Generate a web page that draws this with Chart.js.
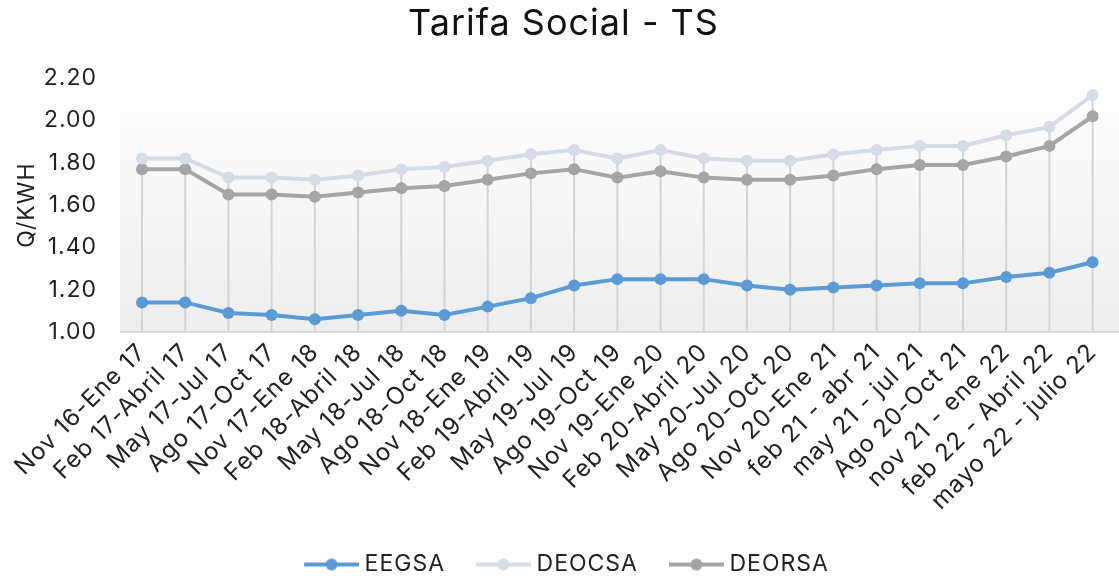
<!DOCTYPE html>
<html>
<head>
<meta charset="utf-8">
<script src="https://cdn.jsdelivr.net/npm/chart.js@4.4.1/dist/chart.umd.min.js"></script>
<style>
    body { margin: 0; background: #fff; }
    #wrap { width: 1119px; height: 576px; }
</style>
</head>
<body>
<div id="wrap"><canvas id="lineChart" width="1119" height="576"></canvas></div>
<script>
// datos
const periodos = ["Nov 16-Ene 17", "Feb 17-Abril 17", "May 17-Jul 17", "Ago 17-Oct 17", "Nov 17-Ene 18",
    "Feb 18-Abril 18", "May 18-Jul 18", "Ago 18-Oct 18", "Nov 18-Ene 19", "Feb 19-Abril 19",
    "May 19-Jul 19", "Ago 19-Oct 19", "Nov 19-Ene 20", "Feb 20-Abril 20", "May 20-Jul 20",
    "Ago 20-Oct 20", "Nov 20-Ene 21", "feb 21 - abr 21", "may 21 - jul 21", "Ago 20-Oct 21",
    "nov 21 - ene 22", "feb 22 - Abril 22", "mayo 22 - julio 22"];
const eegsa = [1.14, 1.14, 1.09, 1.08, 1.06, 1.08, 1.10, 1.08, 1.12, 1.16, 1.22, 1.25, 1.25, 1.25, 1.22,
    1.20, 1.21, 1.22, 1.23, 1.23, 1.26, 1.28, 1.33];
const deocsa = [1.82, 1.82, 1.73, 1.73, 1.72, 1.74, 1.77, 1.78, 1.81, 1.84, 1.86, 1.82, 1.86, 1.82, 1.81,
    1.81, 1.84, 1.86, 1.88, 1.88, 1.93, 1.97, 2.12];
const deorsa = [1.77, 1.77, 1.65, 1.65, 1.64, 1.66, 1.68, 1.69, 1.72, 1.75, 1.77, 1.73, 1.76, 1.73, 1.72,
    1.72, 1.74, 1.77, 1.79, 1.79, 1.83, 1.88, 2.02];
const series = ["EEGSA", "DEOCSA", "DEORSA"];
const colores = ["#5B9BD5", "#D6DCE5", "#A5A5A5"];
const yMin = 1.0, yMax = 2.2, yStep = 0.2;

const FONT = "Inter, 'DejaVu Sans', sans-serif";
const TEXT = "#222";

// icono de leyenda: línea con punto
const legendIcon = (color) => {
    const c = document.createElement("canvas");
    c.width = 67; c.height = 14;
    const g = c.getContext("2d");
    g.strokeStyle = color; g.lineWidth = 4;
    g.beginPath(); g.moveTo(12, 7); g.lineTo(67, 7); g.stroke();
    g.fillStyle = color;
    g.beginPath(); g.arc(39.5, 7, 6, 0, Math.PI * 2); g.fill();
    return c;
};

// texto un poco más espaciado (la fuente original es más ancha)
const spacing = {
    id: "spacing",
    beforeLayout(chart) { chart.ctx.letterSpacing = "1px"; },
    beforeDraw(chart) { chart.ctx.letterSpacing = "1px"; }
};

// fondo degradado, líneas de caída y eje inferior
const decor = {
    id: "decor",
    beforeDatasetsDraw(chart) {
        const {ctx, chartArea: a, scales: {x, y}} = chart;
        const left = a.left - 22;
        const top = a.top + 34;
        const grad = ctx.createLinearGradient(0, top, 0, a.bottom);
        grad.addColorStop(0, "#fcfcfc");
        grad.addColorStop(1, "#eeeeee");
        ctx.save();
        ctx.fillStyle = grad;
        ctx.fillRect(left, top, chart.width - left, a.bottom - top);
        ctx.strokeStyle = "#d4d4d4";
        ctx.lineWidth = 2;
        periodos.forEach((p, i) => {
            const hi = Math.max(eegsa[i], deocsa[i], deorsa[i]);
            const px = x.getPixelForValue(i);
            ctx.beginPath();
            ctx.moveTo(px, y.getPixelForValue(hi));
            ctx.lineTo(px, a.bottom);
            ctx.stroke();
        });
        ctx.strokeStyle = "#d9d9d9";
        ctx.beginPath();
        ctx.moveTo(left, a.bottom);
        ctx.lineTo(chart.width, a.bottom);
        ctx.stroke();
        ctx.restore();
    }
};

const ds = (label, data, color) => ({
    label: label,
    data: data,
    borderColor: color,
    backgroundColor: color,
    pointBackgroundColor: color,
    pointBorderColor: color,
    pointBorderWidth: 0,
    pointRadius: 6,
    borderWidth: 4,
    tension: 0
});

const ctx = document.getElementById("lineChart").getContext("2d");
new Chart(ctx, {
    type: "line",
    data: {
        labels: periodos,
        datasets: [
            ds(series[0], eegsa, colores[0]),
            ds(series[1], deocsa, colores[1]),
            ds(series[2], deorsa, colores[2])
        ]
    },
    plugins: [spacing, decor],
    options: {
        responsive: false,
        animation: false,
        layout: {padding: {left: 26, right: 18, top: 0, bottom: -10}},
        plugins: {
            title: {
                display: true,
                text: "Tarifa Social - TS",
                color: "#111",
                font: {family: FONT, size: 36, weight: "normal"},
                padding: {top: 3, bottom: 32}
            },
            legend: {
                position: "bottom",
                labels: {
                    usePointStyle: true,
                    pointStyleWidth: 55,
                    padding: 25,
                    color: TEXT,
                    font: {family: FONT, size: 23},
                    generateLabels: (chart) => {
                        const items = Chart.defaults.plugins.legend.labels.generateLabels(chart);
                        items.forEach((it, i) => { it.pointStyle = legendIcon(colores[i]); });
                        return items;
                    }
                }
            },
            tooltip: {enabled: false}
        },
        scales: {
            x: {
                offset: false,
                grid: {display: false, drawTicks: false},
                border: {display: false},
                ticks: {
                    autoSkip: false,
                    minRotation: 45,
                    maxRotation: 45,
                    padding: 6,
                    color: TEXT,
                    font: {family: FONT, size: 24}
                },
                afterFit: (s) => { s.height = 196; }
            },
            y: {
                min: yMin,
                max: yMax,
                grid: {display: false, drawTicks: false},
                border: {display: false},
                ticks: {
                    stepSize: yStep,
                    padding: 45,
                    color: TEXT,
                    font: {family: FONT, size: 23},
                    callback: (v) => v.toFixed(2)
                },
                title: {
                    display: true,
                    text: "Q/KWH",
                    color: TEXT,
                    font: {family: FONT, size: 23},
                    padding: {top: -13, bottom: 0}
                },
                afterFit: (s) => { s.width = 116; }
            }
        }
    }
});
</script>
</body>
</html>
